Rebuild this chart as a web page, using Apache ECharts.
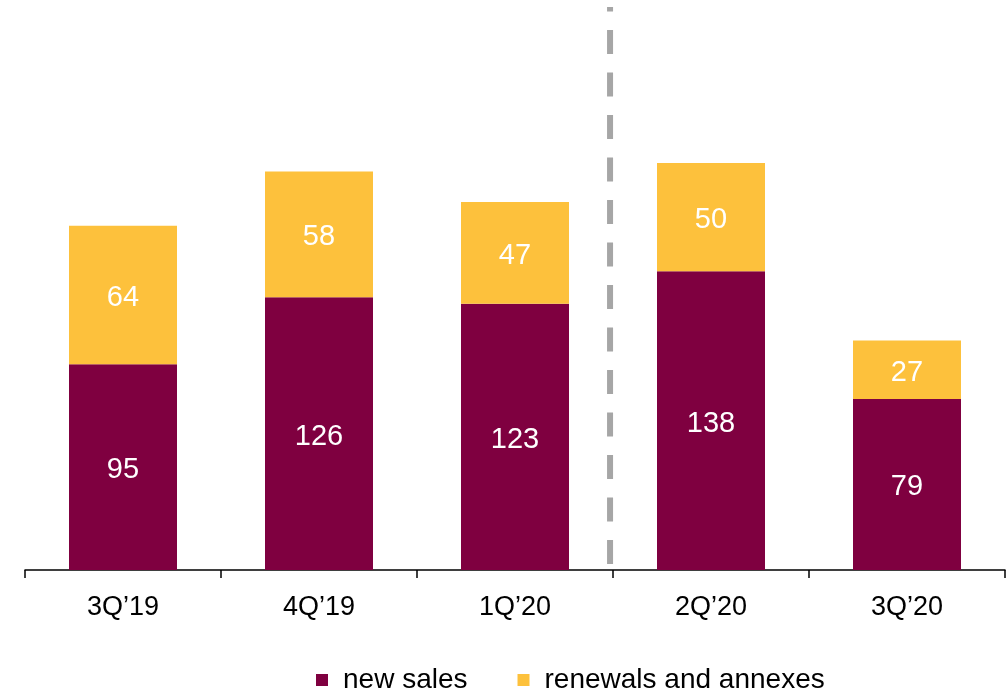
<!DOCTYPE html>
<html>
<head>
<meta charset="utf-8">
<script src="https://cdn.jsdelivr.net/npm/echarts@6/dist/echarts.min.js"></script>
<style>
  html, body { margin: 0; padding: 0; background: #ffffff; }
  #chart { width: 1008px; height: 695px; }
</style>
</head>
<body>
<div id="chart"></div>
<script>
// Quarterly contract volume, split by type
const quarters = ['3Q\u201919', '4Q\u201919', '1Q\u201920', '2Q\u201920', '3Q\u201920'];
const newSales = [95, 126, 123, 138, 79];
const renewals = [64, 58, 47, 50, 27];
const seriesNames = ['new sales', 'renewals and annexes'];

// Divider between 1Q'20 and 2Q'20 (x on a 0..5 helper axis, y in value units)
const dividerX = 2.985;
const dividerSpan = [2.8, 260];

const FONT = '"Liberation Sans", Arial, sans-serif';
const MAROON = '#7F0040';
const YELLOW = '#FDC13C';

const chart = echarts.init(document.getElementById('chart'), null, { renderer: 'canvas' });

const valueLabel = {
  show: true,
  position: 'inside',
  offset: [0, 3],
  color: '#ffffff',
  fontFamily: FONT,
  fontSize: 29
};

chart.setOption({
  animation: false,
  backgroundColor: '#ffffff',
  grid: { left: 25, right: 3, top: 7, bottom: 125, containLabel: false },
  xAxis: [
    {
      type: 'category',
      data: quarters,
      axisLine: { show: true, lineStyle: { color: '#000000', width: 1.5 } },
      axisTick: { show: true, length: 8, lineStyle: { color: '#000000', width: 1.5 } },
      axisLabel: { color: '#000000', fontFamily: FONT, fontSize: 27, margin: 24 }
    },
    {
      type: 'value',
      min: 0,
      max: 5,
      show: false
    }
  ],
  yAxis: {
    type: 'value',
    min: 0,
    max: 260,
    show: false,
    splitLine: { show: false }
  },
  legend: {
    left: 316,
    top: 666,
    padding: 0,
    icon: 'rect',
    itemWidth: 12,
    itemHeight: 12,
    itemGap: 50,
    textStyle: { color: '#000000', fontFamily: FONT, fontSize: 28, padding: [0, 0, 0, 10] },
    data: seriesNames
  },
  series: [
    {
      name: seriesNames[0],
      type: 'bar',
      stack: 'total',
      barWidth: 108,
      itemStyle: { color: MAROON },
      label: valueLabel,
      data: newSales
    },
    {
      name: seriesNames[1],
      type: 'bar',
      stack: 'total',
      barWidth: 108,
      itemStyle: { color: YELLOW },
      label: valueLabel,
      data: renewals
    },
    {
      name: 'divider',
      type: 'line',
      xAxisIndex: 1,
      symbol: 'none',
      silent: true,
      lineStyle: { color: '#A6A6A6', width: 6, type: [24, 18.5], cap: 'butt' },
      data: [[dividerX, dividerSpan[0]], [dividerX, dividerSpan[1]]]
    }
  ]
});
</script>
</body>
</html>
